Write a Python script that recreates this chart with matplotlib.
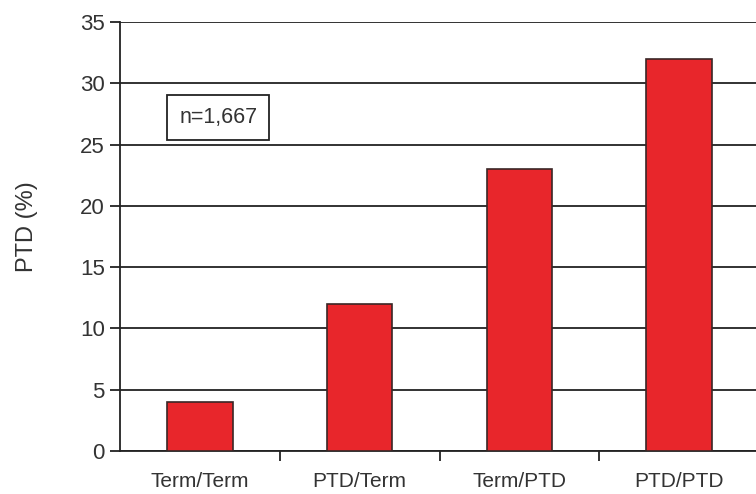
import matplotlib.pyplot as plt
from matplotlib.ticker import FixedLocator

plt.rcParams['font.family'] = ['Liberation Sans', 'DejaVu Sans']

categories = ['Term/Term', 'PTD/Term', 'Term/PTD', 'PTD/PTD']
ptd_pct = [4, 12, 23, 32]

fig = plt.figure(figsize=(7.56, 4.94), dpi=100)
ax = fig.add_axes([120 / 756, 1 - 451 / 494, 639 / 756, 429 / 494])

x = range(len(categories))
ax.bar(x, ptd_pct, width=0.41, color='#e8262b', edgecolor='#3a2626', linewidth=1.2, zorder=3)

ax.set_xlim(-0.5, 3.5)
ax.set_ylim(0, 35)
ax.set_yticks(range(0, 36, 5))
ax.yaxis.grid(True, color='#222222', linewidth=1.3, zorder=0)

ax.set_xticks(list(x))
ax.set_xticklabels(categories, fontsize=15, color='#333333')
ax.tick_params(axis='x', which='major', length=0, pad=15)
ax.xaxis.set_minor_locator(FixedLocator([0.5, 1.5, 2.5]))
ax.tick_params(axis='x', which='minor', length=7, width=1.3, direction='out', color='#222222')
ax.tick_params(axis='y', length=7, width=1.3, labelsize=16, labelcolor='#333333', color='#222222', pad=4)

for side in ['top', 'right']:
    ax.spines[side].set_visible(False)
for side in ['left', 'bottom']:
    ax.spines[side].set_linewidth(1.3)
    ax.spines[side].set_color('#222222')

ax.set_ylabel('PTD (%)', fontsize=17, color='#333333')
ax.yaxis.set_label_coords(-0.128, 0.522)

ax.text(0.115, 27.2, 'n=1,667', fontsize=15.5, color='#333333', ha='center', va='center',
        bbox=dict(boxstyle='square,pad=0.55', facecolor='white', edgecolor='#222222', linewidth=1.3),
        zorder=4)

fig.savefig('out.png', dpi=100)
